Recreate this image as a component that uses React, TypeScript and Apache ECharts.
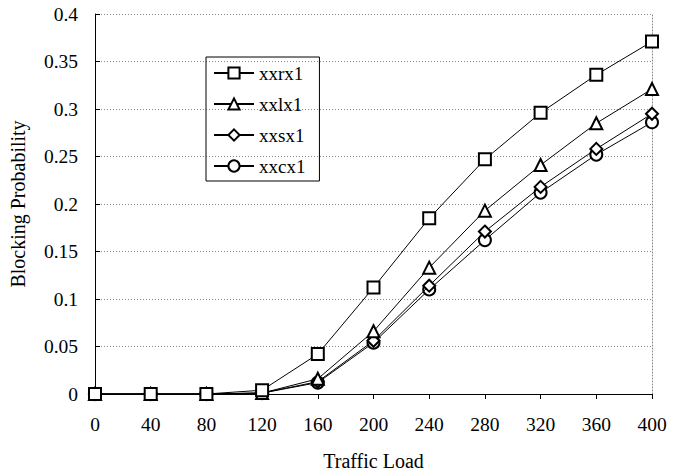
import React, { useEffect, useRef } from "react";
import * as echarts from "echarts";

const xValues = [0, 40, 80, 120, 160, 200, 240, 280, 320, 360, 400];
const seriesNames = ["xxrx1", "xxlx1", "xxsx1", "xxcx1"];
const xxrx1 = [0, 0, 0, 0.004, 0.042, 0.112, 0.185, 0.247, 0.296, 0.336, 0.371];
const xxlx1 = [0, 0, 0, 0.001, 0.016, 0.066, 0.133, 0.193, 0.241, 0.285, 0.321];
const xxsx1 = [0, 0, 0, 0.001, 0.013, 0.056, 0.114, 0.171, 0.218, 0.258, 0.295];
const xxcx1 = [0, 0, 0, 0.001, 0.012, 0.054, 0.110, 0.162, 0.212, 0.252, 0.286];
const symbols = ["emptyRect", "emptyTriangle", "emptyDiamond", "emptyCircle"];

const FONT = "Liberation Serif";

export default function App() {
  const ref = useRef<HTMLDivElement>(null);
  useEffect(() => {
    if (!ref.current) return;
    const chart = echarts.init(ref.current, undefined, { renderer: "svg" });
    const all = [xxrx1, xxlx1, xxsx1, xxcx1];
    chart.setOption({
      animation: false,
      backgroundColor: "#ffffff",
      textStyle: { fontFamily: FONT },
      grid: { left: 93, right: 28, top: 14, bottom: 74 },
      legend: {
        orient: "vertical",
        left: 206,
        top: 57,
        padding: [6, 14, 5, 7],
        itemGap: 11,
        itemWidth: 40,
        itemHeight: 14,
        borderColor: "#000",
        borderWidth: 1,
        textStyle: { fontFamily: FONT, fontSize: 19, color: "#000", lineHeight: 20 },
        data: seriesNames,
      },
      xAxis: {
        type: "value",
        min: 0,
        max: 400,
        interval: 40,
        name: "Traffic Load",
        nameLocation: "middle",
        nameGap: 57,
        nameTextStyle: { fontFamily: FONT, fontSize: 20, color: "#000" },
        axisLine: { lineStyle: { color: "#000", width: 1 } },
        axisTick: { show: true, inside: false, length: 5, lineStyle: { color: "#000" } },
        axisLabel: { fontFamily: FONT, fontSize: 19.5, color: "#000", margin: 20 },
        splitLine: { show: false },
      },
      yAxis: [
        {
          type: "value",
          min: 0,
          max: 0.4,
          interval: 0.05,
          name: "Blocking Probability",
          nameLocation: "middle",
          nameGap: 67,
          nameTextStyle: { fontFamily: FONT, fontSize: 20, color: "#000" },
          axisLine: { show: true, lineStyle: { color: "#000", width: 1 } },
          axisTick: { show: true, inside: true, length: 5, lineStyle: { color: "#000" } },
          axisLabel: { fontFamily: FONT, fontSize: 19.5, color: "#000", margin: 17 },
          splitLine: { show: true, lineStyle: { color: "#888", type: [1, 2], width: 1 } },
        },
        {
          type: "value",
          min: 0,
          max: 0.4,
          interval: 0.05,
          position: "right",
          axisLine: { show: true, lineStyle: { color: "#888", type: [1, 2], width: 1 } },
          axisTick: { show: false },
          axisLabel: { show: false },
          splitLine: { show: false },
        },
      ],
      series: seriesNames.map((name, i) => ({
        name,
        type: "line",
        yAxisIndex: 0,
        data: xValues.map((x, j) => [x, all[i][j]]),
        symbol: symbols[i],
        symbolSize: 12,
        showAllSymbol: true,
        lineStyle: { color: "#000", width: 1 },
        itemStyle: { color: "#000", borderColor: "#000", borderWidth: 1 },
        z: 10 - i,
      })),
    });
    return () => chart.dispose();
  }, []);
  return (
    <div
      ref={ref}
      style={{ position: "absolute", left: 0, top: 0, width: 680, height: 476 }}
    />
  );
}
